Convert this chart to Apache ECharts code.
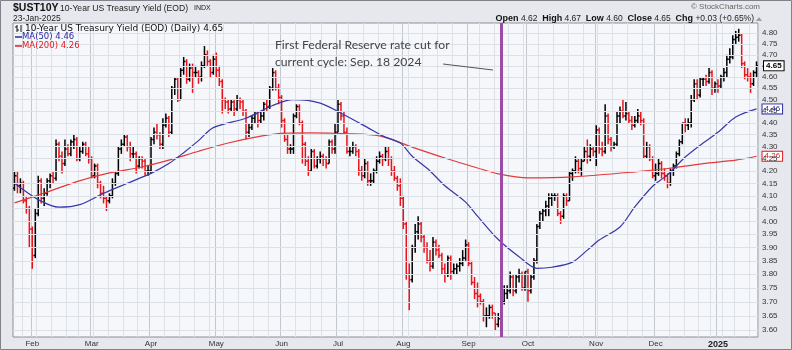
<!DOCTYPE html>
<html><head><meta charset="utf-8">
<script src="https://cdn.jsdelivr.net/npm/echarts@6/dist/echarts.min.js"></script>
<style>html,body{margin:0;padding:0;background:#e6e8ed}#chart{width:792px;height:350px}</style>
</head><body><div id="chart"></div>
<script>
// ---- categories: trading days (day numbers per month)
const tradingDays = {
 '2024-01':[24,25,26,29,30,31],
 '2024-02':[1,2,5,6,7,8,9,12,13,14,15,16,20,21,22,23,26,27,28,29],
 '2024-03':[1,4,5,6,7,8,11,12,13,14,15,18,19,20,21,22,25,26,27,28],
 '2024-04':[1,2,3,4,5,8,9,10,11,12,15,16,17,18,19,22,23,24,25,26,29,30],
 '2024-05':[1,2,3,6,7,8,9,10,13,14,15,16,17,20,21,22,23,24,28,29,30,31],
 '2024-06':[3,4,5,6,7,10,11,12,13,14,17,18,20,21,24,25,26,27,28],
 '2024-07':[1,2,3,5,8,9,10,11,12,15,16,17,18,19,22,23,24,25,26,29,30,31],
 '2024-08':[1,2,5,6,7,8,9,12,13,14,15,16,19,20,21,22,23,26,27,28,29,30],
 '2024-09':[3,4,5,6,9,10,11,12,13,16,17,18,19,20,23,24,25,26,27,30],
 '2024-10':[1,2,3,4,7,8,9,10,11,14,15,16,17,18,21,22,23,24,25,28,29,30,31],
 '2024-11':[1,4,5,6,7,8,11,12,13,14,15,18,19,20,21,22,25,26,27,29],
 '2024-12':[2,3,4,5,6,9,10,11,12,13,16,17,18,19,20,23,24,26,27,30,31],
 '2025-01':[2,3,6,7,8,10,13,14,15,16,17,21,22,23]
};
const monthNames = ['Jan','Feb','Mar','Apr','May','Jun','Jul','Aug','Sep','Oct','Nov','Dec'];
const yTicks = [3.60,3.65,3.70,3.75,3.80,3.85,3.90,3.95,4.00,4.05,4.10,4.15,4.20,4.25,4.30,4.35,4.40,4.45,4.50,4.55,4.60,4.65,4.70,4.75,4.80];

// ---- daily OHLC
const open = [
4.13,4.18,4.14,4.15,4.08,4.05,
3.97,3.87,4.03,4.16,4.09,4.11,4.16,4.18,4.17,4.31,4.26,4.23,4.29,4.27,4.32,4.33,4.25,4.28,4.31,4.27,
4.25,4.18,4.22,4.15,4.11,4.09,4.08,4.10,4.15,4.19,4.29,4.31,4.34,4.30,4.27,4.27,4.22,4.25,4.24,4.20,
4.20,4.33,4.36,4.35,4.31,4.39,4.42,4.36,4.55,4.59,4.50,4.63,4.67,4.59,4.64,4.62,4.62,4.60,4.65,4.70,4.67,4.62,
4.68,4.63,4.58,4.50,4.49,4.46,4.49,4.46,4.50,4.49,4.45,4.36,4.38,4.42,4.44,4.41,4.43,4.48,4.47,4.55,4.62,4.55,
4.51,4.41,4.33,4.29,4.29,4.43,4.47,4.40,4.31,4.24,4.20,4.28,4.22,4.25,4.26,4.25,4.23,4.32,4.29,
4.36,4.48,4.43,4.36,4.28,4.28,4.30,4.28,4.20,4.18,4.23,4.16,4.16,4.20,4.24,4.26,4.25,4.28,4.25,4.20,4.17,4.14,
4.09,3.99,3.80,3.78,3.90,3.96,3.99,3.94,3.90,3.85,3.83,3.92,3.89,3.87,3.82,3.80,3.86,3.81,3.82,3.83,3.84,3.86,
3.91,3.84,3.77,3.73,3.72,3.70,3.65,3.65,3.68,3.66,3.62,3.64,3.70,3.73,3.74,3.79,3.74,3.79,3.80,3.75,
3.81,3.74,3.79,3.85,3.98,4.03,4.04,4.06,4.09,4.10,4.10,4.03,4.02,4.10,4.08,4.19,4.20,4.24,4.21,4.24,4.28,4.26,4.29,
4.28,4.37,4.29,4.28,4.43,4.33,4.30,4.31,4.43,4.45,4.43,4.44,4.41,4.39,4.41,4.43,4.41,4.26,4.30,4.25,
4.18,4.19,4.23,4.19,4.18,4.15,4.20,4.22,4.27,4.32,4.40,4.39,4.40,4.50,4.57,4.52,4.59,4.59,4.58,4.62,4.55,
4.57,4.56,4.60,4.62,4.68,4.69,4.77,4.78,4.79,4.66,4.61,4.60,4.57,4.62];
const high = [
4.20,4.20,4.17,4.16,4.10,4.06,
3.98,4.05,4.18,4.17,4.13,4.17,4.19,4.20,4.33,4.32,4.28,4.33,4.31,4.33,4.35,4.34,4.30,4.32,4.32,4.30,
4.26,4.23,4.23,4.16,4.14,4.10,4.11,4.17,4.20,4.30,4.33,4.35,4.35,4.32,4.30,4.28,4.26,4.26,4.25,4.22,
4.34,4.38,4.40,4.36,4.42,4.44,4.43,4.56,4.60,4.60,4.64,4.69,4.68,4.66,4.66,4.65,4.63,4.67,4.74,4.72,4.68,4.70,
4.71,4.65,4.59,4.51,4.50,4.50,4.50,4.52,4.51,4.50,4.46,4.40,4.43,4.45,4.45,4.45,4.49,4.50,4.56,4.64,4.63,4.57,
4.52,4.42,4.35,4.31,4.44,4.48,4.48,4.41,4.32,4.26,4.29,4.29,4.26,4.28,4.27,4.26,4.33,4.33,4.40,
4.50,4.49,4.45,4.38,4.30,4.32,4.31,4.29,4.22,4.25,4.24,4.19,4.21,4.26,4.28,4.27,4.30,4.30,4.26,4.22,4.18,4.17,
4.10,4.00,3.84,3.91,3.99,4.02,4.00,3.95,3.92,3.89,3.94,3.93,3.91,3.88,3.84,3.87,3.87,3.84,3.84,3.86,3.89,3.93,
3.92,3.85,3.79,3.77,3.73,3.71,3.68,3.69,3.69,3.66,3.66,3.73,3.76,3.76,3.81,3.80,3.80,3.82,3.81,3.81,
3.82,3.80,3.86,3.99,4.04,4.05,4.08,4.11,4.11,4.11,4.11,4.04,4.11,4.11,4.20,4.21,4.26,4.25,4.25,4.30,4.33,4.31,4.30,
4.39,4.38,4.32,4.48,4.44,4.34,4.32,4.45,4.47,4.50,4.49,4.45,4.43,4.43,4.46,4.45,4.42,4.32,4.31,4.26,
4.23,4.25,4.24,4.21,4.19,4.21,4.23,4.28,4.33,4.40,4.42,4.42,4.52,4.59,4.59,4.60,4.60,4.61,4.64,4.63,4.58,
4.59,4.61,4.64,4.70,4.73,4.79,4.81,4.82,4.80,4.67,4.64,4.62,4.63,4.67];
const low = [
4.12,4.11,4.11,4.07,4.03,3.90,
3.82,3.86,4.02,4.07,4.06,4.10,4.13,4.15,4.16,4.24,4.19,4.22,4.26,4.26,4.29,4.24,4.24,4.27,4.26,4.23,
4.17,4.17,4.13,4.09,4.07,4.04,4.07,4.09,4.14,4.18,4.27,4.30,4.28,4.24,4.25,4.19,4.21,4.21,4.18,4.18,
4.19,4.31,4.33,4.29,4.29,4.38,4.34,4.35,4.52,4.49,4.50,4.61,4.57,4.58,4.53,4.60,4.57,4.58,4.64,4.65,4.60,4.61,
4.60,4.56,4.44,4.46,4.44,4.45,4.43,4.45,4.46,4.43,4.33,4.34,4.37,4.40,4.38,4.40,4.41,4.45,4.46,4.54,4.54,4.48,
4.38,4.32,4.27,4.27,4.27,4.42,4.39,4.23,4.22,4.18,4.20,4.21,4.21,4.23,4.22,4.21,4.23,4.27,4.27,
4.36,4.41,4.35,4.27,4.26,4.27,4.26,4.18,4.16,4.17,4.14,4.14,4.15,4.19,4.23,4.22,4.24,4.22,4.18,4.16,4.12,4.06,
3.97,3.78,3.67,3.77,3.88,3.93,3.92,3.88,3.84,3.81,3.82,3.87,3.86,3.80,3.77,3.79,3.78,3.80,3.80,3.81,3.83,3.85,
3.83,3.76,3.71,3.68,3.69,3.63,3.61,3.64,3.64,3.60,3.61,3.62,3.69,3.71,3.73,3.72,3.73,3.77,3.74,3.74,
3.70,3.73,3.78,3.84,3.97,4.00,4.02,4.02,4.06,4.08,4.02,3.99,4.01,4.06,4.08,4.16,4.19,4.19,4.18,4.24,4.23,4.24,4.26,
4.22,4.27,4.26,4.27,4.31,4.28,4.29,4.30,4.40,4.42,4.41,4.40,4.37,4.38,4.40,4.39,4.25,4.25,4.24,4.17,
4.16,4.18,4.17,4.16,4.13,4.14,4.18,4.21,4.26,4.31,4.36,4.37,4.38,4.49,4.50,4.51,4.56,4.56,4.57,4.52,4.53,
4.53,4.55,4.58,4.60,4.66,4.68,4.75,4.76,4.64,4.59,4.58,4.53,4.56,4.60];
const close = [
4.18,4.14,4.15,4.08,4.05,3.97,
3.87,4.03,4.16,4.09,4.11,4.16,4.18,4.17,4.31,4.26,4.23,4.29,4.27,4.32,4.33,4.25,4.28,4.31,4.27,4.25,
4.18,4.22,4.15,4.11,4.09,4.08,4.10,4.15,4.19,4.29,4.31,4.34,4.30,4.27,4.27,4.22,4.25,4.24,4.20,4.20,
4.33,4.36,4.35,4.31,4.39,4.42,4.36,4.55,4.59,4.50,4.63,4.67,4.59,4.64,4.62,4.62,4.60,4.65,4.70,4.67,4.62,4.68,
4.63,4.58,4.50,4.49,4.46,4.49,4.46,4.50,4.49,4.45,4.36,4.38,4.42,4.44,4.41,4.43,4.48,4.47,4.55,4.62,4.55,4.51,
4.41,4.33,4.29,4.29,4.43,4.47,4.40,4.31,4.24,4.20,4.28,4.22,4.25,4.26,4.25,4.23,4.32,4.29,4.36,
4.48,4.43,4.36,4.28,4.28,4.30,4.28,4.20,4.18,4.23,4.16,4.16,4.20,4.24,4.26,4.25,4.28,4.25,4.20,4.17,4.14,4.09,
3.99,3.80,3.78,3.90,3.96,3.99,3.94,3.90,3.85,3.83,3.92,3.89,3.87,3.82,3.80,3.86,3.81,3.82,3.83,3.84,3.86,3.91,
3.84,3.77,3.73,3.72,3.70,3.65,3.65,3.68,3.66,3.62,3.64,3.70,3.73,3.74,3.79,3.74,3.79,3.80,3.75,3.81,
3.74,3.79,3.85,3.98,4.03,4.04,4.06,4.09,4.10,4.10,4.03,4.02,4.10,4.08,4.19,4.20,4.24,4.21,4.24,4.28,4.26,4.29,4.28,
4.37,4.29,4.28,4.43,4.33,4.30,4.31,4.43,4.45,4.43,4.44,4.41,4.39,4.41,4.43,4.41,4.26,4.30,4.25,4.18,
4.19,4.23,4.19,4.18,4.15,4.20,4.22,4.27,4.32,4.40,4.39,4.40,4.50,4.57,4.52,4.59,4.59,4.58,4.62,4.55,4.57,
4.56,4.60,4.62,4.68,4.69,4.77,4.78,4.79,4.66,4.61,4.60,4.57,4.62,4.65];

// ---- moving averages
const ma50 = [
['2024-01-24',4.15],['2024-02-05',4.085],['2024-02-14',4.055],['2024-02-26',4.065],['2024-03-07',4.11],
['2024-03-19',4.15],['2024-04-01',4.19],['2024-04-09',4.23],['2024-04-16',4.275],['2024-04-23',4.325],
['2024-04-30',4.38],['2024-05-15',4.42],['2024-05-29',4.475],['2024-06-07',4.50],['2024-06-21',4.485],
['2024-07-03',4.435],['2024-07-16',4.38],['2024-07-23',4.345],['2024-07-31',4.315],['2024-08-06',4.26],
['2024-08-14',4.20],['2024-08-21',4.14],['2024-08-30',4.075],['2024-09-06',4.02],['2024-09-17',3.93],
['2024-09-26',3.865],['2024-10-04',3.822],['2024-10-11',3.826],['2024-10-22',3.845],['2024-10-29',3.89],
['2024-11-04',3.928],['2024-11-13',3.978],['2024-11-20',4.056],['2024-11-29',4.138],['2024-12-06',4.184],
['2024-12-16',4.257],['2024-12-24',4.315],['2025-01-02',4.36],['2025-01-13',4.425],['2025-01-23',4.46]];
const ma200 = [
['2024-01-24',4.072],['2024-02-07',4.111],['2024-02-23',4.157],['2024-03-11',4.192],['2024-03-26',4.216],
['2024-04-09',4.244],['2024-04-23',4.281],['2024-05-07',4.315],['2024-05-22',4.344],['2024-06-04',4.357],
['2024-06-17',4.358],['2024-07-03',4.355],['2024-07-22',4.345],['2024-08-06',4.298],['2024-08-21',4.253],
['2024-09-06',4.212],['2024-09-17',4.188],['2024-10-01',4.172],['2024-10-22',4.176],['2024-11-20',4.196],
['2024-12-06',4.21],['2024-12-24',4.23],['2025-01-13',4.244],['2025-01-23',4.26]];
const eventDate = '2024-09-18';

// ---- build
const dates = [];
Object.keys(tradingDays).forEach(m => tradingDays[m].forEach(d => dates.push(m + '-' + String(d).padStart(2,'0'))));
const N = dates.length;
const ohlc = dates.map((d,i) => [i, open[i], high[i], low[i], close[i]]);
const monthStart = new Set(), weekStart = new Set();
dates.forEach((d,i) => {
  if (i === 0) return;
  if (d.slice(0,7) !== dates[i-1].slice(0,7)) monthStart.add(i);
  const a = new Date(d+'T00:00:00Z').getUTCDay(), b = new Date(dates[i-1]+'T00:00:00Z').getUTCDay();
  if (a <= b) weekStart.add(i);
});
const F = 'Liberation Sans, Arial, sans-serif';
const V = 'DejaVu Sans, Verdana, sans-serif';
const A = 'Lato, "Open Sans", sans-serif';

const chart = echarts.init(document.getElementById('chart'), null, {renderer:'canvas'});
chart.setOption({
  animation: false,
  backgroundColor: '#e6e8ed',
  grid: {left:13, right:34, top:23, bottom:13, show:true, backgroundColor:'#f6f7fa', borderColor:'#8a8f98', borderWidth:1},
  xAxis: [
    {type:'category', data:dates, boundaryGap:true, axisLine:{show:false}, axisTick:{show:false}, axisLabel:{show:false},
     splitLine:{show:true, interval:(i)=>weekStart.has(i), lineStyle:{color:'#dde1e8', width:1}}},
    {type:'category', data:dates, boundaryGap:true, position:'bottom', axisLine:{show:false}, axisTick:{show:false},
     splitLine:{show:true, interval:(i)=>monthStart.has(i), lineStyle:{color:'#c3c7cf', width:1}},
     axisLabel:{interval:(i)=>monthStart.has(i), margin:3, fontSize:8, fontFamily:F, color:'#333',
       formatter:(v)=>{const m=+v.slice(5,7); return m===1 ? '{y|'+v.slice(0,4)+'}' : monthNames[m-1];},
       rich:{y:{fontWeight:'bold', fontSize:9, fontFamily:F, color:'#222'}}}}
  ],
  yAxis: {type:'log', logBase:10, min:3.576, max:4.847, position:'right',
    axisLine:{show:false}, axisTick:{show:false}, axisLabel:{show:false}, splitLine:{show:false}},
  series: [
    {type:'line', name:'grid', data:[], z:1, silent:true,
     markLine:{silent:true, symbol:['none','none'], animation:false,
       lineStyle:{color:'#dce0e7', width:1, type:'solid'},
       label:{position:'end', distance:4, formatter:(p)=>p.value.toFixed(2), color:'#333', fontSize:8, fontFamily:F},
       emphasis:{disabled:true},
       data: yTicks.map(v=>({yAxis:v}))}},
    {type:'custom', name:'UST10Y', data:ohlc, z:3, encode:{x:0, y:[1,2,3,4]},
     renderItem:(params, api) => {
       const i = api.value(0), o = api.value(1), h = api.value(2), l = api.value(3), c = api.value(4);
       const pH = api.coord([i,h]), pL = api.coord([i,l]), pO = api.coord([i,o]), pC = api.coord([i,c]);
       const bw = api.size([1, c])[0] || 3;
       const t = Math.max(1.2, bw*0.5);
       const prev = i > 0 ? close[i-1] : o;
       const col = c < prev ? '#e8141c' : '#000';
       const x = pH[0];
       const st = {stroke:col, lineWidth:1.5};
       return {type:'group', children:[
         {type:'line', shape:{x1:x, y1:pH[1], x2:x, y2:pL[1]}, style:st},
         {type:'line', shape:{x1:x-t, y1:pO[1], x2:x, y2:pO[1]}, style:st},
         {type:'line', shape:{x1:x, y1:pC[1], x2:x+t, y2:pC[1]}, style:st}
       ]};
     }},
    {type:'line', name:'MA(200)', data:ma200, z:4, smooth:0.3, showSymbol:false, symbol:'none',
     lineStyle:{color:'#e03a3a', width:1.2}, silent:true,
     endLabel:{show:true, distance:6, formatter:(p)=>p.value[1].toFixed(2), color:'#e01c1c', fontSize:8, fontFamily:F,
       backgroundColor:'#fff', borderColor:'#e01c1c', borderWidth:1, padding:[1,2,0,2]}},
    {type:'line', name:'MA(50)', data:ma50, z:4, smooth:0.3, showSymbol:false, symbol:'none',
     lineStyle:{color:'#3838a8', width:1.2}, silent:true,
     endLabel:{show:true, distance:6, formatter:(p)=>p.value[1].toFixed(2), color:'#2a2aa0', fontSize:8, fontFamily:F,
       backgroundColor:'#fff', borderColor:'#2a2aa0', borderWidth:1, padding:[1,2,0,2]}},
    {type:'line', name:'overlay', data:[], z:6, silent:true,
     markLine:{silent:true, symbol:['none','none'], animation:false, label:{show:false},
       lineStyle:{color:'#9c4aa8', width:3, type:'solid'}, emphasis:{disabled:true},
       data:[{xAxis:eventDate}]},
     markPoint:{silent:true, symbol:'rect', symbolSize:1, itemStyle:{color:'rgba(0,0,0,0)'},
       data:[{coord:[dates[N-1], close[N-1]], value:close[N-1]}],
       label:{show:true, position:'right', distance:7, formatter:(p)=>p.value.toFixed(2), color:'#000', fontWeight:'bold',
         fontSize:8, fontFamily:F, backgroundColor:'#fff', borderColor:'#000', borderWidth:1, padding:[1,2,0,2]}}}
  ],
  graphic: [
    {type:'text', z:20, x:13, y:3, style:{text:'$UST10Y', font:'bold 10.5px '+F, fill:'#111'}},
    {type:'text', z:20, x:60, y:4, style:{text:'10-Year US Treasury Yield (EOD)', font:'8.6px '+F, fill:'#222'}},
    {type:'text', z:20, x:194, y:5, style:{text:'INDX', font:'7px '+F, fill:'#222'}},
    {type:'text', z:20, x:13, y:14, style:{text:'23-Jan-2025', font:'8.5px '+F, fill:'#222'}},
    {type:'text', z:20, x:760, y:3, style:{text:'© StockCharts.com', font:'8px '+F, fill:'#666', align:'right'}},
    {type:'text', z:20, x:754, y:14, style:{
      text:'{b|Open} 4.62  {b|High} 4.67  {b|Low} 4.60  {b|Close} 4.65  {b|Chg} +0.03 (+0.65%)',
      font:'8.5px '+F, fill:'#222', align:'right',
      rich:{b:{font:'bold 9px '+F, fill:'#111'}}}},
    {type:'polygon', z:20, shape:{points:[[756,21],[762,21],[759,17]]}, style:{fill:'#9aa0a8'}},
    // legend
    {type:'line', z:20, shape:{x1:17, y1:25, x2:17, y2:32}, style:{stroke:'#111', lineWidth:1}},
    {type:'line', z:20, shape:{x1:15, y1:27, x2:17, y2:27}, style:{stroke:'#111', lineWidth:1}},
    {type:'line', z:20, shape:{x1:17, y1:30, x2:19, y2:30}, style:{stroke:'#111', lineWidth:1}},
    {type:'line', z:20, shape:{x1:21, y1:25, x2:21, y2:32}, style:{stroke:'#111', lineWidth:1}},
    {type:'text', z:20, x:25, y:24, style:{text:'10-Year US Treasury Yield (EOD) (Daily) 4.65', font:'9px '+V, fill:'#111'}},
    {type:'line', z:20, shape:{x1:15, y1:37, x2:22, y2:37}, style:{stroke:'#2a2aa0', lineWidth:1.5}},
    {type:'text', z:20, x:22, y:32, style:{text:'MA(50) 4.46', font:'8.5px '+V, fill:'#2a2aa0'}},
    {type:'line', z:20, shape:{x1:15, y1:46, x2:22, y2:46}, style:{stroke:'#e01c1c', lineWidth:1.5}},
    {type:'text', z:20, x:22, y:41, style:{text:'MA(200) 4.26', font:'8.5px '+V, fill:'#e01c1c'}},
    // annotation
    {type:'text', z:20, x:275, y:39, style:{text:'First Federal Reserve rate cut for', font:'12.2px '+A, fill:'#444'}},
    {type:'text', z:20, x:275, y:56, style:{text:'current cycle: Sep. 18 2024', font:'12.2px '+A, fill:'#444'}},
    {type:'line', z:20, shape:{x1:443, y1:64, x2:493, y2:70}, style:{stroke:'#555', lineWidth:1}},
    // frame
    {type:'rect', shape:{x:0.5, y:0.5, width:791, height:349}, style:{fill:null, stroke:'#7d828b', lineWidth:1}, z:100}
  ]
});
</script></body></html>
